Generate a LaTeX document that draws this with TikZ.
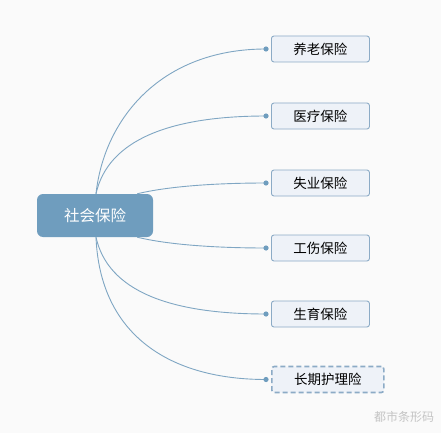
\documentclass[tikz,border=0pt]{standalone}
\usepackage{fontspec}
\newfontfamily\cjk{Noto Sans CJK SC}
\usetikzlibrary{calc}

\definecolor{bgcol}{HTML}{FAFAFA}
\definecolor{rootcol}{HTML}{6F9DBE}
\definecolor{linecol}{HTML}{7FA6C3}
\definecolor{boxline}{HTML}{8CABC6}
\definecolor{boxfill}{HTML}{EEF2F8}
\definecolor{markcol}{HTML}{C4C4C4}

\tikzset{
    rootbox/.style={draw=none, fill=rootcol, rounded corners=6pt,
        minimum width=116pt, minimum height=43pt, inner sep=0pt,
        text=white, font=\cjk\fontsize{15.5}{16}\selectfont},
    leafbox/.style={draw=boxline, fill=boxfill, rounded corners=2.5pt,
        line width=0.9pt, minimum height=26pt, minimum width=98pt,
        inner sep=0pt, anchor=west, font=\cjk\fontsize{13.5}{14}\selectfont},
    branch/.style={draw=linecol, line width=0.9pt},
    joint/.style={fill=rootcol},
}

\begin{document}
\begin{tikzpicture}[x=1pt, y=-1pt]

    \fill[bgcol] (0,0) rectangle (441,433);

    \node[rootbox] (root) at (95,215.5) {社会保险};

    \node[leafbox] (c1) at (271,49)  {养老保险};
    \node[leafbox] (c2) at (271,116) {医疗保险};
    \node[leafbox] (c3) at (271,183) {失业保险};
    \node[leafbox] (c4) at (271,248) {工伤保险};
    \node[leafbox] (c5) at (271,314) {生育保险};
    \node[leafbox, dashed, dash pattern=on 5pt off 3pt, line width=1.6pt,
        minimum width=112pt] (c6) at (271,379.5) {长期护理险};

    % free ends of the branches
    \foreach \i in {1,...,6}
        \coordinate (d\i) at ($(c\i.west)+(-5,0)$);
    \coordinate (tl) at ($(root.north)+(1,0)$);
    \coordinate (tr) at ($(root.north east)+(-16,0)$);
    \coordinate (bl) at ($(root.south)+(1,0)$);
    \coordinate (br) at ($(root.south east)+(-16,0)$);

    \draw[branch] (tl) .. controls +(8,-74) and +(-106,0) .. (d1);
    \draw[branch] (tl) .. controls +(12,-54) and +(-96,0) .. (d2);
    \draw[branch] (tr) .. controls +(33,-8) and +(-46,0) .. (d3);
    \draw[branch] (br) .. controls +(33,8) and +(-46,0) .. (d4);
    \draw[branch] (bl) .. controls +(12,54) and +(-96,0) .. (d5);
    \draw[branch] (bl) .. controls +(4,98) and +(-96,0) .. (d6);

    \foreach \i in {1,...,6}
        \fill[joint] (d\i) circle (2.6);

    \node[text=markcol, font=\cjk\fontsize{12}{12}\selectfont] (mark) at (404,417) {都市条形码};

\end{tikzpicture}
\end{document}
